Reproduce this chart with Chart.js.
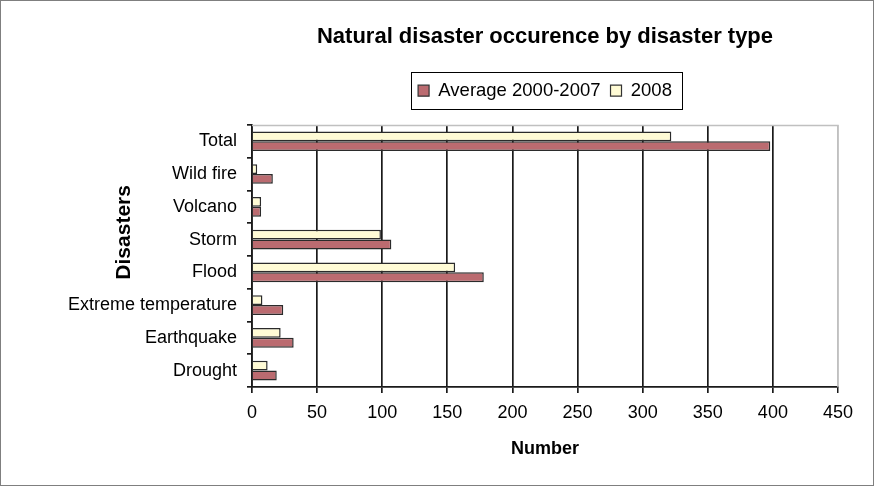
<!DOCTYPE html>
<html>
<head>
<meta charset="utf-8">
<script src="https://cdn.jsdelivr.net/npm/chart.js@4/dist/chart.umd.min.js"></script>
<style>
  html, body { margin: 0; padding: 0; background: #fff; }
  #wrap { width: 874px; height: 486px; position: relative; }
</style>
</head>
<body>
<div id="wrap"><canvas id="c" width="874" height="486"></canvas></div>
<script>
// Disaster types, listed bottom to top
const disasterTypes = ['Drought', 'Earthquake', 'Extreme temperature', 'Flood', 'Storm', 'Volcano', 'Wild fire', 'Total'];
// Average yearly occurrences 2000-2007
const average2000to2007 = [19, 32, 24, 178, 107, 7, 16, 398];
// Occurrences in 2008
const year2008 = [12, 22, 8, 156, 99, 7, 4, 322];
// Numeric axis ticks
const numberTicks = [0, 50, 100, 150, 200, 250, 300, 350, 400, 450];

const sans = "'Liberation Sans', Arial, sans-serif";
const avgColor = '#bb6b70';
const newColor = '#fffbd5';
const edge = '#2b2b2b';

// Leave a gap between the legend and the plot area
const legendGap = {
  id: 'legendGap',
  beforeInit(chart) {
    const fit = chart.legend.fit;
    chart.legend.fit = function () {
      fit.call(this);
      this.height += 15;
    };
  }
};

// Plot-area frame, legend frame, outer chart frame and the vertical axis title
const frames = {
  id: 'frames',
  beforeDatasetsDraw(chart) {
    const {ctx, chartArea: a} = chart;
    ctx.save();
    ctx.strokeStyle = '#c0c0c0';
    ctx.lineWidth = 1.5;
    ctx.beginPath();
    ctx.moveTo(a.left, a.top + 0.5);
    ctx.lineTo(a.right, a.top + 0.5);
    ctx.lineTo(a.right, a.bottom);
    ctx.stroke();
    ctx.restore();
  },
  afterDraw(chart) {
    const {ctx, chartArea: a} = chart;
    const boxes = chart.legend.legendHitBoxes;
    ctx.save();
    if (boxes && boxes.length) {
      const l = Math.min(...boxes.map(b => b.left)) - 7;
      const r = Math.max(...boxes.map(b => b.left + b.width)) + 10;
      const t = Math.min(...boxes.map(b => b.top)) - 9;
      const btm = Math.max(...boxes.map(b => b.top + b.height)) + 9;
      ctx.strokeStyle = '#000';
      ctx.lineWidth = 1;
      ctx.strokeRect(Math.round(l) + 0.5, Math.round(t) + 0.5, Math.round(r - l), Math.round(btm - t));
    }
    // vertical axis title, set a little above the middle of the category axis
    const ys = chart.scales.y;
    ctx.translate(ys.left + 64, a.top + (a.bottom - a.top) * 0.41);
    ctx.rotate(-Math.PI / 2);
    ctx.fillStyle = '#000';
    ctx.font = "bold 21px " + sans;
    ctx.textAlign = 'center';
    ctx.textBaseline = 'middle';
    ctx.fillText('Disasters', 0, 0);
    ctx.setTransform(1, 0, 0, 1, 0, 0);
    ctx.strokeStyle = '#7f7f7f';
    ctx.lineWidth = 1;
    ctx.strokeRect(0.5, 0.5, chart.width - 1, chart.height - 1);
    ctx.restore();
  }
};

new Chart(document.getElementById('c'), {
  type: 'bar',
  data: {
    labels: disasterTypes,
    datasets: [
      {
        label: '2008',
        data: year2008,
        backgroundColor: newColor,
        borderColor: edge,
        borderWidth: 1.5,
        categoryPercentage: 0.6,
        barPercentage: 1.0
      },
      {
        label: 'Average 2000-2007',
        data: average2000to2007,
        backgroundColor: avgColor,
        borderColor: edge,
        borderWidth: 1.5,
        categoryPercentage: 0.6,
        barPercentage: 1.0
      }
    ]
  },
  options: {
    indexAxis: 'y',
    responsive: false,
    animation: false,
    layout: { padding: { left: 60, right: 36, top: 12, bottom: 26 } },
    plugins: {
      title: {
        display: true,
        text: 'Natural disaster occurence by disaster type',
        fullSize: false,
        color: '#000',
        font: { family: sans, size: 22, weight: 'bold' },
        padding: { top: 12, bottom: 21 }
      },
      legend: {
        display: true,
        fullSize: false,
        reverse: true,
        labels: {
          color: '#000',
          font: { family: sans, size: 18.5 },
          boxWidth: 11,
          boxHeight: 11,
          padding: 10,
          generateLabels(chart) {
            return chart.data.datasets.map((ds, i) => ({
              text: ds.label,
              fillStyle: ds.backgroundColor,
              strokeStyle: '#333333',
              lineWidth: 1.2,
              hidden: false,
              datasetIndex: i
            }));
          }
        }
      },
      tooltip: { enabled: false }
    },
    scales: {
      x: {
        min: 0,
        max: 450,
        afterBuildTicks(scale) { scale.ticks = numberTicks.map(v => ({ value: v })); },
        afterFit(scale) { scale.height = 73; },
        ticks: {
          color: '#000',
          font: { family: sans, size: 18 },
          padding: 9
        },
        grid: {
          color: ctx => (ctx.tick && ctx.tick.value === 450 ? '#c0c0c0' : '#1a1a1a'),
          lineWidth: ctx => (ctx.tick && ctx.tick.value === 450 ? 1.5 : 1.7),
          tickLength: 6,
          tickColor: '#1a1a1a',
          drawOnChartArea: true,
          drawTicks: true
        },
        border: { display: true, color: '#1a1a1a', width: 1.7 },
        title: {
          display: true,
          text: 'Number',
          color: '#000',
          font: { family: sans, size: 18, weight: 'bold' },
          padding: { top: 0, bottom: 0 }
        }
      },
      y: {
        reverse: true,
        afterFit(scale) { scale.width = 192; },
        ticks: {
          color: '#000',
          font: { family: sans, size: 18 },
          padding: 10
        },
        grid: {
          drawOnChartArea: false,
          drawTicks: true,
          tickLength: 5,
          tickColor: '#1a1a1a',
          lineWidth: 1.7
        },
        border: { display: true, color: '#1a1a1a', width: 1.7 },
        title: { display: false }
      }
    }
  },
  plugins: [legendGap, frames]
});
</script>
</body>
</html>
